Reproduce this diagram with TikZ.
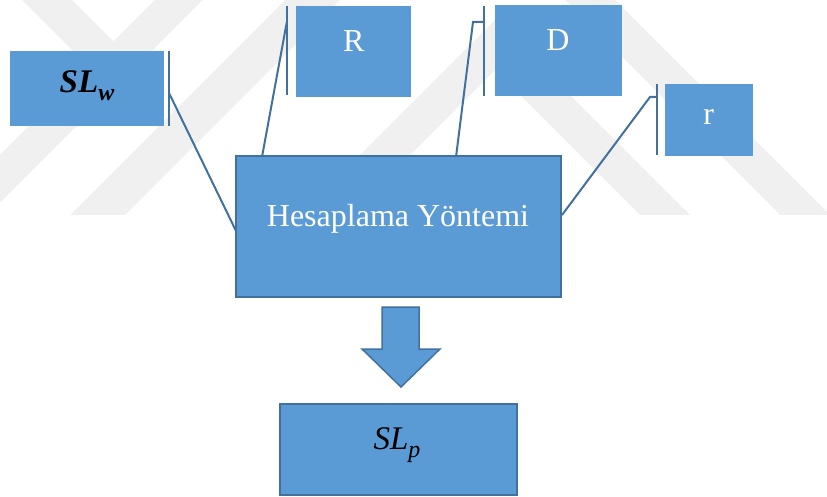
\documentclass[tikz,border=0pt]{standalone}
\usepackage{fontspec}
\setmainfont{Liberation Serif}
\definecolor{boxfill}{HTML}{5B9BD5}
\definecolor{boxline}{HTML}{41719C}
\definecolor{wm}{HTML}{F0F0F0}
\newcommand\mysubscr[1]{\raisebox{-8pt}{\fontsize{24}{28}\selectfont #1}}
\tikzset{
  plainbox/.style={rectangle, fill=boxfill, inner sep=0pt, outer sep=0pt},
  mainbox/.style={plainbox, draw=boxline, line width=2pt},
  lbl/.style={inner sep=0pt, anchor=base, text=white, font=\fontsize{32}{38}\selectfont},
  mathlbl/.style={inner sep=0pt, anchor=base, text=black, font=\fontsize{33}{38}\selectfont\itshape},
  link/.style={draw=boxline, line width=2pt},
  barline/.style={draw=boxline, line width=2pt},
  blockarrow/.style={fill=boxfill, draw=boxline, line width=1.5pt, line join=miter},
}
\begin{document}
\begin{tikzpicture}[x=1pt,y=-1pt]
\useasboundingbox (0,0) rectangle (827,497);
% faint watermark
\begin{scope}
\clip (0,0) rectangle (827,497);
\fill[wm] (-60,215) -- (-12,215) -- (203,0) -- (155,0) -- cycle;
\fill[wm] (22,0) -- (72,0) -- (137.5,65.5) -- (112.5,90.5) -- cycle;
\fill[wm] (70,215) -- (125,215) -- (340,0) -- (285,0) -- cycle;
\fill[wm] (300,215) -- (350,215) -- (495,70) -- (640,215) -- (690,215) -- (495,20) -- cycle;
\fill[wm] (780,215) -- (830,215) -- (615,0) -- (565,0) -- cycle;
\end{scope}

% side bars and connectors
\coordinate (slwbT) at (169,51);  \coordinate (slwbB) at (169,126);
\coordinate (slwc) at (169,93);   \coordinate (hesL) at (237,233);
\coordinate (RbT) at (287,6);     \coordinate (RbB) at (287,95);
\coordinate (Rc) at (287,21);     \coordinate (hesR) at (262,157);
\coordinate (DbT) at (484,6);     \coordinate (DbB) at (484,96);
\coordinate (Dc) at (484,22);     \coordinate (Dk) at (473,22);  \coordinate (hesD) at (456,157);
\coordinate (rbT) at (657,84);    \coordinate (rbB) at (657,155);
\coordinate (rc) at (657,97);     \coordinate (rk) at (650,97);  \coordinate (hesr) at (562,215);

\draw[barline] (slwbT) -- (slwbB);
\draw[barline] (RbT) -- (RbB);
\draw[barline] (DbT) -- (DbB);
\draw[barline] (rbT) -- (rbB);
\draw[link] (slwc) -- (hesL);
\draw[link] (Rc) -- (hesR);
\draw[link] (Dc) -- (Dk) -- (hesD);
\draw[link] (rc) -- (rk) -- (hesr);

% boxes
\node[plainbox, minimum width=154pt, minimum height=75pt] (slw) at (87,88.5) {};
\node[plainbox, minimum width=115pt, minimum height=91pt] (boxR) at (353.5,51.5) {};
\node[plainbox, minimum width=127pt, minimum height=91pt] (boxD) at (558.5,50.5) {};
\node[plainbox, minimum width=88pt, minimum height=72pt] (boxr) at (709,120) {};
\node[mainbox, minimum width=325pt, minimum height=141pt] (hes) at (398.5,226.5) {};
\node[mainbox, minimum width=237pt, minimum height=91pt] (slp) at (398.5,449.5) {};

% labels
\node[mathlbl, font=\fontsize{33}{38}\selectfont\bfseries\itshape] (slwt) at (87,93) {SL\mysubscr{w}};
\node[lbl] (Rt) at (353.7,52) {R};
\node[lbl] (Dt) at (557.8,51) {D};
\node[lbl] (rt) at (708.7,125) {r};
\node[lbl] (hest) at (398,226) {Hesaplama Yöntemi};
\node[mathlbl] (slpt) at (397,449) {SL\mysubscr{p}};

% block arrow
\draw[blockarrow] (382,307) -- (419,307) -- (419,349) -- (440,349) -- (401,387) -- (362,349) -- (382,349) -- cycle;
\end{tikzpicture}
\end{document}
